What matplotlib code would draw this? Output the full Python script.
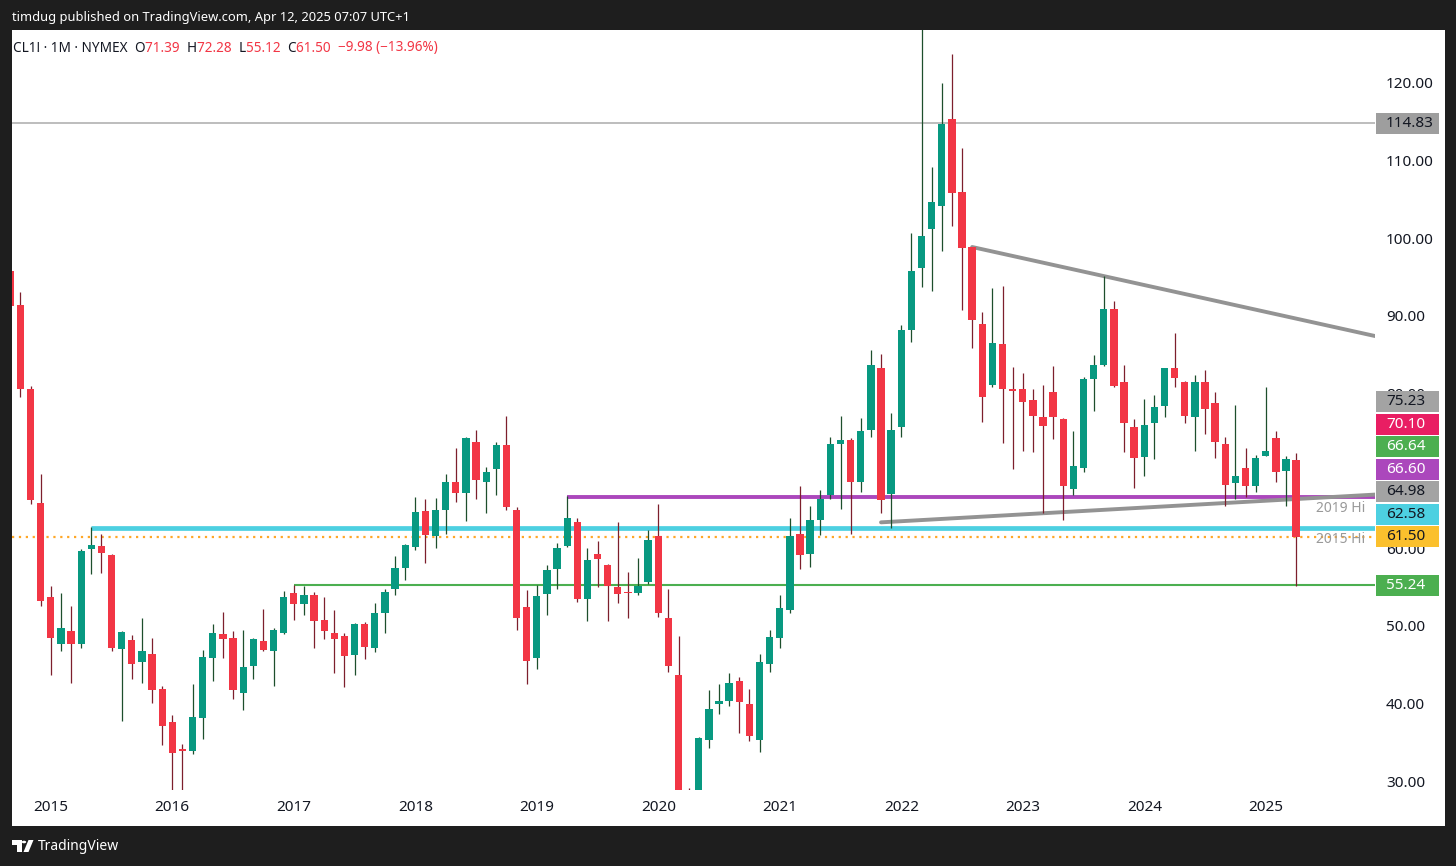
import numpy as np
import pandas as pd
import matplotlib
matplotlib.use("Agg")
import matplotlib.pyplot as plt
import matplotlib.transforms as mtransforms
from matplotlib.patches import Rectangle, Polygon, Circle

W, H = 1456, 866
plt.rcParams['font.family'] = ['Noto Sans', 'DejaVu Sans']

# monthly CL1! candles, Sep 2014 .. Apr 2025
opens = [95.8, 91.4, 80.6, 65.9, 53.7, 47.7, 49.4, 47.6, 59.9, 60.3, 59.1, 47.0,
         48.2, 45.4, 46.4, 41.8, 37.6, 34.1, 33.9, 38.1, 45.9, 48.9, 48.4, 41.4,
         44.8, 48.1, 46.8, 49.1, 54.2, 52.8, 54.0, 50.8, 49.1, 48.7, 46.3, 50.2,
         47.1, 51.7, 54.7, 57.4, 60.2, 64.8, 61.6, 65.0, 68.5, 67.1, 73.7, 68.5,
         70.2, 73.3, 64.9, 52.4, 45.8, 54.1, 57.3, 60.3, 63.4, 53.5, 59.3, 57.8,
         55.0, 54.4, 54.2, 55.6, 61.6, 51.0, 43.7, 20.1, 19.2, 35.3, 39.9, 40.3,
         42.9, 39.9, 35.3, 45.1, 48.5, 52.0, 61.9, 59.3, 63.6, 66.9, 73.5, 74.0,
         68.6, 75.3, 83.3, 67.0, 75.7, 88.1, 96.1, 101.2, 104.1, 115.4, 106.0, 98.8,
         88.9, 81.1, 86.4, 80.5, 80.6, 79.1, 76.9, 80.1, 76.7, 67.6, 70.4, 81.8,
         83.6, 90.8, 81.5, 75.6, 71.8, 76.1, 78.3, 83.2, 81.5, 76.9, 81.5, 78.7,
         73.5, 68.4, 70.4, 68.0, 71.9, 74.2, 70.0, 71.39]
highs = [96.5, 93.0, 80.9, 69.6, 55.2, 54.3, 52.5, 59.9, 62.8, 61.9, 59.3, 49.4,
         48.8, 51.0, 48.4, 42.2, 38.5, 34.8, 42.5, 46.9, 50.3, 51.8, 49.4, 49.5,
         48.5, 52.2, 49.7, 54.5, 55.3, 55.1, 54.4, 53.7, 52.0, 49.1, 50.4, 50.5,
         52.9, 54.8, 59.0, 60.5, 66.6, 66.3, 66.5, 69.6, 72.9, 74.4, 75.3, 70.5,
         73.7, 77.0, 65.3, 54.6, 55.3, 57.8, 60.7, 66.7, 63.9, 60.0, 61.0, 58.0,
         63.4, 56.9, 58.7, 62.4, 65.7, 54.7, 48.7, 29.1, 35.7, 41.7, 42.5, 43.9,
         43.4, 41.9, 46.4, 49.5, 54.0, 63.9, 68.0, 65.5, 67.5, 74.4, 77.1, 74.2,
         76.8, 85.6, 85.1, 77.5, 88.8, 100.6, 130.5, 109.2, 120.0, 123.7, 111.6, 98.9,
         90.5, 93.6, 93.8, 83.4, 82.6, 80.6, 81.0, 83.5, 76.8, 75.1, 82.1, 84.9,
         95.1, 91.9, 83.6, 76.7, 79.3, 79.8, 83.3, 87.7, 81.6, 82.4, 83.0, 80.2,
         74.4, 78.5, 72.9, 72.0, 80.8, 75.1, 71.9, 72.28]
lows = [90.9, 79.5, 65.7, 52.5, 43.7, 46.8, 42.6, 47.1, 56.7, 56.8, 46.8, 37.8,
        43.2, 42.6, 40.1, 34.6, 26.2, 26.1, 33.5, 35.4, 42.9, 45.9, 40.6, 39.2,
        43.1, 46.8, 42.2, 49.0, 50.8, 51.4, 47.1, 48.3, 43.9, 42.1, 43.7, 45.7,
        46.6, 49.1, 54.0, 55.9, 59.8, 58.1, 60.1, 61.9, 66.0, 63.5, 66.3, 64.5,
        66.9, 64.9, 49.5, 42.5, 44.5, 51.4, 54.7, 60.2, 53.1, 50.6, 55.0, 50.6,
        53.0, 51.0, 54.0, 55.4, 51.1, 44.0, 20.0, -40.3, 19.0, 34.3, 38.6, 39.7,
        36.2, 35.1, 33.8, 44.1, 47.2, 51.7, 57.3, 57.6, 61.7, 66.4, 65.1, 61.8,
        67.2, 74.4, 64.6, 62.6, 74.4, 86.6, 93.7, 93.2, 98.4, 101.6, 90.7, 85.8,
        76.3, 80.8, 73.6, 70.2, 72.6, 72.4, 64.5, 74.1, 63.7, 66.9, 69.8, 77.7,
        83.5, 80.8, 72.4, 67.8, 69.3, 71.5, 76.9, 80.8, 76.2, 72.6, 74.7, 71.6,
        65.4, 66.4, 66.6, 67.2, 71.9, 68.6, 65.4, 55.12]
closes = [91.2, 80.5, 66.2, 53.2, 48.4, 49.7, 47.7, 59.7, 60.4, 59.4, 47.1, 49.2,
          45.1, 46.7, 41.7, 37.1, 33.6, 33.9, 38.3, 46.0, 49.1, 48.3, 41.7, 44.7,
          48.3, 46.9, 49.5, 53.7, 52.8, 54.0, 50.6, 49.4, 48.3, 46.1, 50.2, 47.3,
          51.7, 54.4, 57.4, 60.4, 64.7, 61.7, 64.9, 68.6, 67.1, 74.2, 68.8, 69.8,
          73.3, 65.3, 51.0, 45.5, 53.9, 57.2, 60.1, 63.9, 53.5, 58.5, 58.6, 55.1,
          54.1, 54.2, 55.1, 61.1, 51.6, 44.8, 20.5, 18.8, 35.5, 39.3, 40.3, 42.7,
          40.2, 35.8, 45.4, 48.6, 52.3, 61.6, 59.2, 63.6, 66.4, 73.5, 74.0, 68.6,
          75.1, 83.6, 66.2, 75.3, 88.1, 95.8, 100.3, 104.7, 114.7, 105.8, 98.7, 89.5,
          79.5, 86.5, 80.5, 80.3, 78.9, 77.1, 75.8, 76.9, 68.1, 70.6, 81.8, 83.7,
          90.8, 80.9, 76.1, 71.7, 75.9, 78.2, 83.2, 82.0, 77.1, 81.5, 77.9, 73.7,
          68.2, 69.3, 68.0, 71.7, 72.6, 69.9, 71.48, 61.50]
months = pd.date_range('2014-09-01', periods=len(opens), freq='MS')

# price labels on the scale
label_values = [114.83, 75.23, 70.10, 66.64, 66.60, 64.98, 62.58, 61.50, 55.24]
label_colors = ['#9e9e9e', '#a3a3a3', '#e91e63', '#4caf50', '#ab47bc', '#a3a3a3',
                '#4dd0e1', '#fbc02d', '#4caf50']
label_text = ['#131722', '#131722', 'white', 'white', 'white', '#131722',
              '#131722', '#131722', 'white']

# drawings: horizontal levels (price, start month index) and trend lines
grey_level = 114.83
hi_2015, hi_2015_start = 62.58, 8
hi_2019, hi_2019_start = 66.60, 55
low_level, low_level_start = 55.24, 28
down_x, down_y = [95, 108], [98.85, 95.1]
up_x, up_y = [86, 116], [63.35, 65.55]

o, h, l, c = map(np.array, (opens, highs, lows, closes))
x = np.arange(len(o))

fig = plt.figure(figsize=(W / 100, H / 100), dpi=100, facecolor='#1e1e1e')
fig.patches.append(Rectangle((11.5 / W, (H - 826) / H), (1445 - 11.5) / W, (826 - 30) / H,
                             transform=fig.transFigure, facecolor='white', zorder=-1))
ax = fig.add_axes([11.5 / W, (H - 790) / H, (1375 - 11.5) / W, (790 - 30) / H])
ax.set_facecolor('white')
x_lo, x_hi = 0.12, 134.79
ax.set_xlim(x_lo, x_hi)
ax.set_ylim(28.84, 126.83)
for s in ax.spines.values():
    s.set_visible(False)

# levels / drawings (under candles)
ax.axhline(grey_level, color='#bdbdbd', lw=1.4, zorder=2)
ax.hlines(hi_2015, hi_2015_start, x_hi, color='#4dd0e1', lw=3.4, zorder=2)
ax.hlines(hi_2019, hi_2019_start, x_hi, color='#ab47bc', lw=2.8, zorder=2)
ax.hlines(low_level, low_level_start, x_hi, color='#4caf50', lw=1.5, zorder=2)
ax.axhline(c[-1], color='#ffa726', lw=1.6, ls=(0, (1, 2.1)), zorder=2)
for tx, ty in ((down_x, down_y), (up_x, up_y)):
    k = (ty[1] - ty[0]) / (tx[1] - tx[0])
    ax.plot([tx[0], x_hi], [ty[0], ty[0] + k * (x_hi - tx[0])], color='#939393',
            lw=2.8, solid_capstyle='round', zorder=2)

# candles
up = c >= o
ax.vlines(x, l, h, colors=np.where(up, '#1d4f2c', '#7d1f2c'), lw=0.9, zorder=3)
ax.bar(x, np.maximum(np.abs(c - o), 0.15), bottom=np.minimum(o, c), width=0.72,
       color=np.where(up, '#089981', '#f23645'), linewidth=0, zorder=4)

# annotations near the right edge
for lev, txt in ((hi_2019, '2019 Hi'), (hi_2015, '2015 Hi')):
    ax.annotate(txt, (x_hi, lev), xytext=(-7, -8), textcoords='offset points',
                ha='right', va='center', fontsize=10, color='#999999', zorder=5)

# axes ticks (70.00 sits fully under the coloured labels, so it is left blank)
yt = np.arange(30, 121, 10)
ax.yaxis.tick_right()
ax.set_yticks(yt)
ax.set_yticklabels(['' if v == 70 else f'{v:.2f}' for v in yt])
jan = [i for i, m in enumerate(months) if m.month == 1]
ax.set_xticks(jan)
ax.set_xticklabels([str(months[i].year) for i in jan])
ax.tick_params(axis='y', length=0, pad=8, labelsize=11, labelcolor='#131722')
ax.tick_params(axis='x', length=0, pad=7, labelsize=11, labelcolor='#131722')

# price-scale labels, stacked so they do not overlap
trans = mtransforms.blended_transform_factory(ax.transAxes, ax.transData)
gap = 2.9
order = np.argsort(label_values)
pos = {}
prev = -1e9
for i in order:
    v = label_values[i]
    p = max(v, prev + gap)
    pos[i] = p
    prev = p
box_x0, box_w, box_h = 1.0007, 0.0462, 2.72
for i, v in enumerate(label_values):
    ax.add_patch(Rectangle((box_x0, pos[i] - box_h / 2), box_w, box_h, transform=trans,
                           facecolor=label_colors[i], edgecolor='none', clip_on=False, zorder=6))
    ax.text(1.0081, pos[i], f'{v:.2f}', transform=trans, ha='left', va='center',
            fontsize=11, color=label_text[i], clip_on=False, zorder=7)

# top bar
fig.text(12 / W, 1 - 17 / H, 'timdug published on TradingView.com, Apr 12, 2025 07:07 UTC+1',
         color='white', fontsize=9.3, va='center', ha='left')

# legend line with coloured values
chg = c[-1] - c[-2]
pct = chg / c[-2] * 100
dark, red = '#131722', '#f23645'
pieces = [('CL1! · 1M · NYMEX  ', dark), ('O', dark), (f'{o[-1]:.2f}  ', red),
          ('H', dark), (f'{h[-1]:.2f}  ', red), ('L', dark), (f'{l[-1]:.2f}  ', red),
          ('C', dark), (f'{c[-1]:.2f}  ', red),
          (f'{chg:.2f} ({pct:.2f}%)'.replace('-', '\u2212'), red)]
renderer = fig.canvas.get_renderer()
xp = 13
for s, col in pieces:
    t = fig.text(xp / W, 1 - 48 / H, s, color=col, fontsize=9.75, va='center', ha='left')
    xp += t.get_window_extent(renderer).width

# bottom bar logo
def px(xx, yy):
    return (xx / W, 1 - yy / H)

logo = dict(facecolor='white', edgecolor='none', transform=fig.transFigure)
fig.patches.append(Polygon([px(12, 840), px(21.5, 840), px(21.5, 852), px(17, 852),
                            px(17, 844.5), px(12, 844.5)], **logo))
fig.patches.append(Circle(px(24, 842), 2.2 / W, **logo))
fig.patches.append(Polygon([px(28.5, 840), px(33.5, 840), px(28.5, 852), px(23.5, 852)], **logo))
fig.text(38 / W, 1 - 846 / H, 'TradingView', color='white', fontsize=10, va='center', ha='left')

fig.savefig('out.png', dpi=100, facecolor=fig.get_facecolor())
